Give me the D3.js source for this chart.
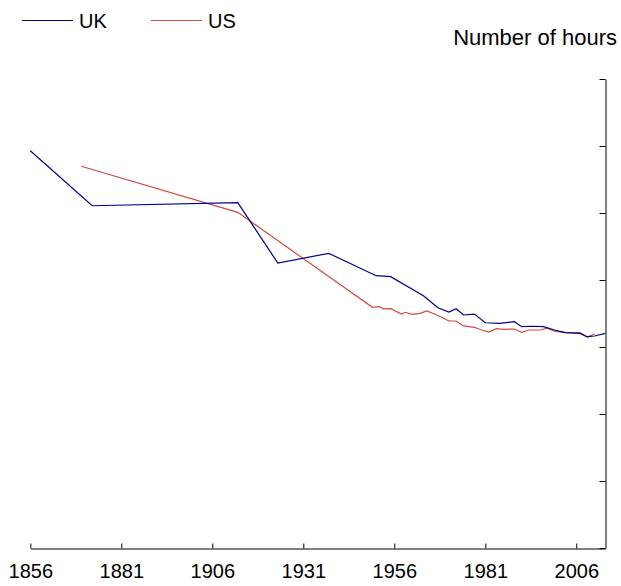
<!DOCTYPE html>
<html>
<head>
<meta charset="utf-8">
<script src="https://cdn.jsdelivr.net/npm/d3@7/dist/d3.min.js"></script>
<style>
  html, body { margin: 0; padding: 0; background: #fff; }
  svg { display: block; }
  text { font-family: "Liberation Sans", Arial, sans-serif; fill: #000; }
</style>
</head>
<body>
<svg id="chart" width="621" height="586"></svg>
<script>
// ---- data ----
const ukYears  = [1856, 1873, 1913, 1924, 1938, 1951, 1955, 1964, 1968, 1971, 1973, 1975, 1978, 1981, 1985, 1989, 1991, 1994, 1997, 2000, 2003, 2007, 2009, 2011, 2014];
const ukHours  = [2965, 2554, 2577, 2127, 2199, 2032, 2025, 1883, 1793, 1761, 1786, 1739, 1746, 1681, 1677, 1689, 1652, 1655, 1652, 1627, 1607, 1602, 1577, 1582, 1602];
const usYears  = [1870, 1913, 1950, 1952, 1953, 1955, 1958, 1959, 1961, 1963, 1965, 1967, 1969, 1971, 1973, 1975, 1978, 1980, 1982, 1984, 1986, 1989, 1991, 1993, 1996, 1998, 2000, 2003, 2007, 2009, 2011];
const usHours  = [2849, 2505, 1796, 1801, 1784, 1786, 1746, 1759, 1744, 1751, 1769, 1746, 1722, 1694, 1694, 1657, 1647, 1627, 1612, 1637, 1632, 1634, 1610, 1627, 1627, 1640, 1619, 1607, 1607, 1572, 1597];
const seriesNames = ["UK", "US"];
const xTickYears = [1856, 1881, 1906, 1931, 1956, 1981, 2006];
const yTickValues = [0, 500, 1000, 1500, 2000, 2500, 3000, 3500];
const yTitle = "Number of hours";

const colors = { UK: "#00008f", US: "#d24b45" };

const svg = d3.select("#chart");
const x = d3.scaleLinear().domain([1856, 2014]).range([30.3, 605.4]);
const y = d3.scaleLinear().domain([0, 3500]).range([548, 79]);

// bottom axis
const xAxis = d3.axisBottom(x).tickValues(xTickYears).tickFormat(d3.format("d"))
  .tickSize(-5).tickSizeOuter(0).tickPadding(15);
const gx = svg.append("g").attr("transform", "translate(0,548.5)").call(xAxis);
gx.selectAll("path, line").attr("stroke", "#000");
gx.selectAll("text").attr("font-size", 20).attr("font-family", "Liberation Sans, Arial, sans-serif").attr("fill", "#000");

// right axis (ticks inward, no labels)
const yAxis = d3.axisLeft(y).tickValues(yTickValues).tickFormat("").tickSize(6).tickSizeOuter(0);
const gy = svg.append("g").attr("transform", "translate(605.5,0)").call(yAxis);
gy.selectAll("path, line").attr("stroke", "#000");

// lines
const line = d3.line().x(d => x(d[0])).y(d => y(d[1]));
const ukData = ukYears.map((yr, i) => [yr, ukHours[i]]);
const usData = usYears.map((yr, i) => [yr, usHours[i]]);
svg.append("path").datum(usData).attr("d", line).attr("fill", "none")
  .attr("stroke", colors.US).attr("stroke-width", 1.2);
svg.append("path").datum(ukData).attr("d", line).attr("fill", "none")
  .attr("stroke", colors.UK).attr("stroke-width", 1.2);

// legend
const legendPos = [{ name: "UK", x0: 22, x1: 73, tx: 79 }, { name: "US", x0: 151, x1: 202, tx: 208 }];
legendPos.forEach((p, i) => {
  const g = svg.append("g");
  g.append("line").attr("x1", p.x0).attr("x2", p.x1).attr("y1", 20.5).attr("y2", 20.5)
    .attr("stroke", colors[seriesNames[i]]).attr("stroke-width", 1);
  g.append("text").attr("x", p.tx).attr("y", 28).attr("font-size", 20).text(seriesNames[i]);
});

// axis title
svg.append("text").attr("x", 617).attr("y", 45).attr("text-anchor", "end")
  .attr("font-size", 22).text(yTitle);
</script>
</body>
</html>
